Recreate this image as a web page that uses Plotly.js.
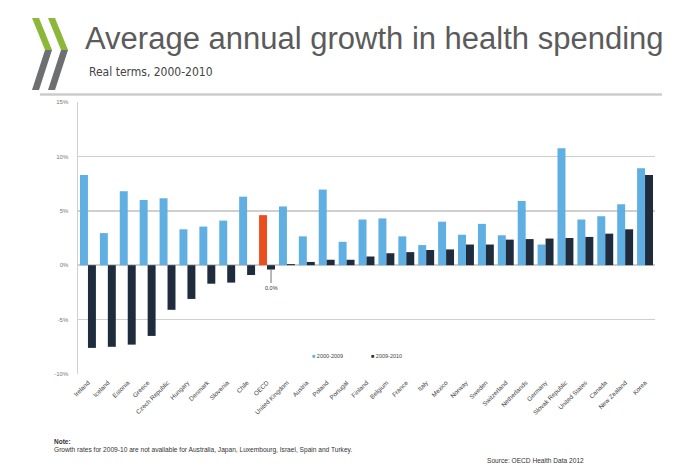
<!DOCTYPE html>
<html>
<head>
<meta charset="utf-8">
<script src="https://cdn.plot.ly/plotly-3.0.1.min.js"></script>
<style>
html,body{margin:0;padding:0;background:#fff;}
#chart{width:677px;height:474px;}
</style>
</head>
<body>
<div id="chart"></div>
<script>
const categories = ["Ireland","Iceland","Estonia","Greece","Czech Republic","Hungary","Denmark","Slovenia","Chile","OECD","United Kingdom","Austria","Poland","Portugal","Finland","Belgium","France","Italy","Mexico","Norway","Sweden","Switzerland","Netherlands","Germany","Slovak Republic","United States","Canada","New Zealand","Korea"];
const seriesNames = ["2000-2009","2009-2010"];
const growth2000_2009 = [8.3,2.95,6.8,6.0,6.15,3.3,3.55,4.1,6.3,4.6,5.4,2.65,6.95,2.15,4.2,4.3,2.65,1.85,4.0,2.8,3.8,2.75,5.9,1.9,10.75,4.2,4.5,5.6,8.9];
const growth2009_2010 = [-7.6,-7.5,-7.3,-6.5,-4.1,-3.1,-1.7,-1.6,-0.9,-0.4,0.1,0.3,0.5,0.5,0.8,1.1,1.2,1.4,1.45,1.9,1.9,2.35,2.4,2.45,2.5,2.6,2.9,3.3,8.3];
const yTickVals = [-10,-5,0,5,10,15];
const yTickLabels = ["-10%","-5%","0%","5%","10%","15%"];
const oecdLabel = "0.0%";
const highlight = "OECD";

const LIGHT = "#5fafe2", DARK = "#1e2c3e", ORANGE = "#ea4f1d";
// plot area in pixels
const L = 78, R = 655, T = 102, B = 374;
const px = x => (x - L) / (R - L);
const py = y => (B - y) / (B - T);

const lightColors = categories.map(c => c === highlight ? ORANGE : LIGHT);

const traces = [
  {type:"bar", name:seriesNames[0], x:categories, y:growth2000_2009, marker:{color:lightColors}, showlegend:false, hoverinfo:"skip"},
  {type:"bar", name:seriesNames[1], x:categories, y:growth2009_2010, marker:{color:DARK}, showlegend:false, hoverinfo:"skip"}
];

const oecdIdx = categories.indexOf(highlight);

const layout = {
  width:677, height:474,
  margin:{l:L, r:677-R, t:T, b:474-B, pad:0},
  paper_bgcolor:"#ffffff", plot_bgcolor:"#ffffff",
  barmode:"group", bargap:0.2, bargroupgap:0,
  font:{family:"Liberation Sans, Arial, sans-serif", color:"#555"},
  title:{text:"Average annual growth in health spending", xref:"container", yref:"container", x:85/677, xanchor:"left", y:1-27/474, yanchor:"top",
         font:{family:"Liberation Sans, Arial, sans-serif", size:31, color:"#5b5b5b"}},
  xaxis:{type:"category", tickangle:-45, tickfont:{size:6.3, color:"#444"}, showgrid:false, showline:false, zeroline:false, ticks:"", ticklabelstandoff:3, automargin:false, fixedrange:true},
  yaxis:{range:[-10,15], tickvals:yTickVals, ticktext:yTickLabels, tickfont:{size:6, color:"#777"}, showgrid:true, gridcolor:"#cfcfcf", gridwidth:1.5,
         zeroline:true, zerolinecolor:"#cfcfcf", zerolinewidth:1.5, showline:true, linecolor:"#d0d0d0", linewidth:1.5, ticks:"", ticklabelstandoff:7, automargin:false, fixedrange:true},
  shapes:[
    {type:"line", xref:"paper", yref:"paper", x0:px(40), x1:px(662), y0:py(94.5), y1:py(94.5), line:{color:"#cccccc", width:2.5}},
    // OECD logo chevrons
    {type:"path", xref:"paper", yref:"paper", path:`M${px(32)},${py(18)} L${px(39)},${py(18)} L${px(52)},${py(50)} L${px(45)},${py(50)} Z`, fillcolor:"#8cb83a", line:{width:0}},
    {type:"path", xref:"paper", yref:"paper", path:`M${px(45)},${py(50)} L${px(52)},${py(50)} L${px(39)},${py(90)} L${px(32)},${py(90)} Z`, fillcolor:"#6e6f73", line:{width:0}},
    {type:"path", xref:"paper", yref:"paper", path:`M${px(48)},${py(18)} L${px(55)},${py(18)} L${px(68)},${py(50)} L${px(61)},${py(50)} Z`, fillcolor:"#8cb83a", line:{width:0}},
    {type:"path", xref:"paper", yref:"paper", path:`M${px(61)},${py(50)} L${px(68)},${py(50)} L${px(55)},${py(90)} L${px(48)},${py(90)} Z`, fillcolor:"#6e6f73", line:{width:0}}
  ],
  annotations:[
    {text:"Real terms, 2000-2010", xref:"paper", yref:"paper", x:px(87), y:py(72), xanchor:"left", yanchor:"middle", showarrow:false,
     font:{family:"DejaVu Sans Condensed, Liberation Sans, sans-serif", size:12, color:"#444"}},
    {text:oecdLabel, x:highlight, y:growth2009_2010[oecdIdx], xref:"x", yref:"y", xshift:4, ax:0, ay:18, showarrow:true, arrowhead:0, arrowwidth:0.7, arrowcolor:"#333", standoff:0,
     font:{size:5.5, color:"#333"}},
    {text:`<span style="color:${LIGHT}">■</span> ${seriesNames[0]}`, xref:"paper", yref:"paper", x:px(310), y:py(356), xanchor:"left", yanchor:"middle", showarrow:false, font:{size:5.5, color:"#444"}},
    {text:`<span style="color:${DARK}">■</span> ${seriesNames[1]}`, xref:"paper", yref:"paper", x:px(369), y:py(356), xanchor:"left", yanchor:"middle", showarrow:false, font:{size:5.5, color:"#444"}},
    {text:"<b>Note:</b>", xref:"paper", yref:"paper", x:px(52), y:py(441), xanchor:"left", yanchor:"middle", showarrow:false, font:{size:6.5, color:"#333"}},
    {text:"Growth rates for 2009-10 are not available for Australia, Japan, Luxembourg, Israel, Spain and Turkey.", xref:"paper", yref:"paper", x:px(52), y:py(450), xanchor:"left", yanchor:"middle", showarrow:false, font:{size:6.6, color:"#333"}},
    {text:"Source: OECD Health Data 2012", xref:"paper", yref:"paper", x:px(485), y:py(460), xanchor:"left", yanchor:"middle", showarrow:false, font:{size:6.6, color:"#333"}}
  ]
};

Plotly.newPlot("chart", traces, layout, {staticPlot:true, displayModeBar:false});
</script>
</body>
</html>
